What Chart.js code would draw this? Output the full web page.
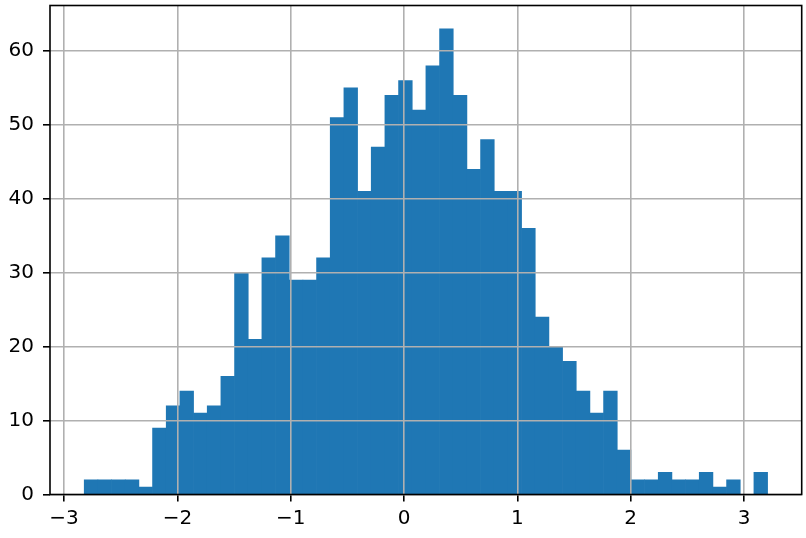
<!DOCTYPE html>
<html>
<head>
<meta charset="utf-8">
<script src="https://cdn.jsdelivr.net/npm/chart.js@4"></script>
<style>
  html, body { margin: 0; padding: 0; background: #ffffff; }
  #wrap { width: 806px; height: 538px; }
</style>
</head>
<body>
<div id="wrap"><canvas id="c" width="806" height="538"></canvas></div>
<script>
// Histogram bin centres (regular bins of width ~0.1206)
const binCenters = [
  -2.7617, -2.6411, -2.5205, -2.3999, -2.2793, -2.1587, -2.0381, -1.9175, -1.7969, -1.6763,
  -1.5557, -1.4351, -1.3145, -1.1939, -1.0733, -0.9527, -0.8321, -0.7115, -0.5909, -0.4703,
  -0.3497, -0.2291, -0.1085,  0.0121,  0.1327,  0.2533,  0.3739,  0.4945,  0.6151,  0.7357,
   0.8563,  0.9769,  1.0975,  1.2181,  1.3387,  1.4593,  1.5799,  1.7005,  1.8211,  1.9417,
   2.0623,  2.1829,  2.3035,  2.4241,  2.5447,  2.6653,  2.7859,  2.9065,  3.0271,  3.1477
];
// Counts per bin
const binCounts = [
   2,  2,  2,  2,  1,  9, 12, 14, 11, 12,
  16, 30, 21, 32, 35, 29, 29, 32, 51, 55,
  41, 47, 54, 56, 52, 58, 63, 54, 44, 48,
  41, 41, 36, 24, 20, 18, 14, 11, 14,  6,
   2,  2,  3,  2,  2,  3,  1,  2,  0,  3
];
const xTickValues = [-3, -2, -1, 0, 1, 2, 3];
const xTickLabels = ['\u22123', '\u22122', '\u22121', '0', '1', '2', '3'];
const yTickValues = [0, 10, 20, 30, 40, 50, 60];
const yTickLabels = ['0', '10', '20', '30', '40', '50', '60'];

const points = binCenters.map((x, i) => ({ x: x, y: binCounts[i] }));

const spinePlugin = {
  id: 'spines',
  afterDraw(chart) {
    const a = chart.chartArea;
    const ctx = chart.ctx;
    ctx.save();
    ctx.strokeStyle = '#000000';
    ctx.lineWidth = 1.6;
    ctx.strokeRect(a.left, a.top, a.right - a.left, a.bottom - a.top);
    ctx.restore();
  }
};

const font = { family: 'DejaVu Sans', size: 20 };

new Chart(document.getElementById('c'), {
  type: 'bar',
  data: {
    datasets: [{
      data: points,
      backgroundColor: '#1f77b4',
      borderWidth: 0,
      barPercentage: 1.0,
      categoryPercentage: 1.0
    }]
  },
  options: {
    responsive: false,
    animation: false,
    events: [],
    layout: { padding: { top: 5.5, right: 4.3, left: 0, bottom: 0 } },
    plugins: { legend: { display: false }, tooltip: { enabled: false } },
    scales: {
      x: {
        type: 'linear',
        offset: false,
        min: -3.124,
        max: 3.509,
        z: 1,
        afterBuildTicks: (axis) => { axis.ticks = xTickValues.map(v => ({ value: v })); },
        afterFit: (axis) => { axis.height = 43.5; axis.paddingLeft = 0; axis.paddingRight = 0; },
        grid: {
          offset: false,
          color: '#b0b0b0',
          lineWidth: 1.6,
          tickColor: '#000000',
          tickWidth: 1.6,
          tickLength: 7,
          z: 1
        },
        border: { display: false },
        ticks: {
          font: font,
          color: '#000000',
          padding: 5,
          maxRotation: 0,
          autoSkip: false,
          callback: (v, i) => xTickLabels[i]
        }
      },
      y: {
        type: 'linear',
        min: 0,
        max: 66.15,
        z: 1,
        afterBuildTicks: (axis) => { axis.ticks = yTickValues.map(v => ({ value: v })); },
        afterFit: (axis) => { axis.width = 50; axis.paddingTop = 0; axis.paddingBottom = 0; },
        grid: {
          color: '#b0b0b0',
          lineWidth: 1.6,
          tickColor: '#000000',
          tickWidth: 1.6,
          tickLength: 7,
          z: 1
        },
        border: { display: false },
        ticks: {
          font: font,
          color: '#000000',
          padding: 9,
          autoSkip: false,
          callback: (v, i) => yTickLabels[i]
        }
      }
    }
  },
  plugins: [spinePlugin]
});
</script>
</body>
</html>
